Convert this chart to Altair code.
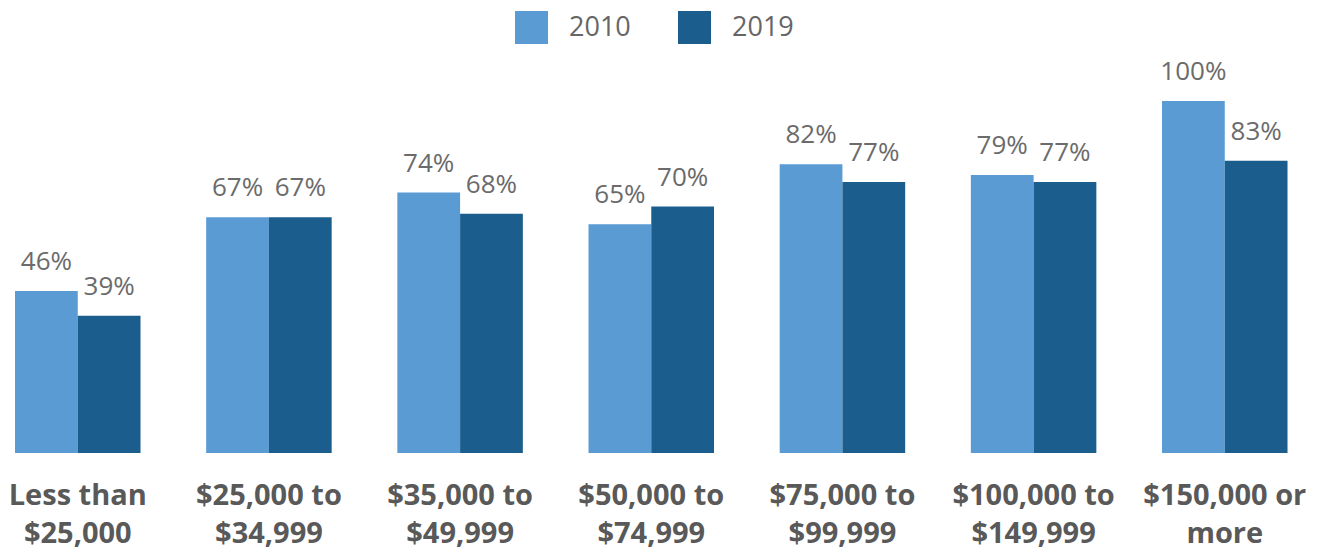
import altair as alt
import pandas as pd

# Household income brackets (two-line axis labels split on "|")
categories = [
    "Less than|$25,000",
    "$25,000 to|$34,999",
    "$35,000 to|$49,999",
    "$50,000 to|$74,999",
    "$75,000 to|$99,999",
    "$100,000 to|$149,999",
    "$150,000 or|more",
]
years = ["2010", "2019"]
values_2010 = [46, 67, 74, 65, 82, 79, 100]
values_2019 = [39, 67, 68, 70, 77, 77, 83]

rows = []
for cat, v10, v19 in zip(categories, values_2010, values_2019):
    rows.append({"category": cat, "year": "2010", "value": v10})
    rows.append({"category": cat, "year": "2019", "value": v19})
df = pd.DataFrame(rows)
df["label"] = df["value"].astype(str) + "%"

FONT = "Open Sans"
colors = ["#5A9BD4", "#1B5E8E"]

x_enc = alt.X(
    "category:N",
    sort=categories,
    scale=alt.Scale(paddingInner=0.3435, paddingOuter=0.1242, align=0.316),
    axis=alt.Axis(
        title=None,
        domain=False,
        ticks=False,
        labelAngle=0,
        labelExpr="split(datum.label, '|')",
        labelFont=FONT,
        labelFontWeight="bold",
        labelFontSize=29,
        labelColor="#595959",
        labelLineHeight=38,
        labelPadding=28,
        labelBaseline="top",
    ),
)
xoff_enc = alt.XOffset(
    "year:N", sort=years, scale=alt.Scale(paddingInner=0, paddingOuter=0)
)
y_enc = alt.Y(
    "value:Q",
    scale=alt.Scale(domain=[0, 453 / 3.52], nice=False, zero=True),
    axis=None,
)

bars = alt.Chart(df).mark_bar().encode(
    x=x_enc,
    xOffset=xoff_enc,
    y=y_enc,
    color=alt.Color(
        "year:N",
        sort=years,
        scale=alt.Scale(domain=years, range=colors),
        legend=alt.Legend(
            title=None,
            orient="none",
            direction="horizontal",
            legendX=515,
            legendY=11,
            symbolType="square",
            symbolSize=1089,
            symbolStrokeWidth=0,
            symbolOpacity=1,
            labelFont=FONT,
            labelFontSize=27,
            labelColor="#666666",
            labelOffset=21,
            columnPadding=47,
            padding=0,
        ),
    ),
)

labels = alt.Chart(df).mark_text(
    font=FONT,
    fontSize=26,
    color="#6b6b6b",
    baseline="alphabetic",
    dy=-21,
).encode(
    x=alt.X("category:N", sort=categories),
    xOffset=alt.XOffset("year:N", sort=years),
    y=alt.Y("value:Q"),
    text="label:N",
)

chart = (
    alt.layer(bars, labels)
    .properties(
        width=1320,
        height=453,
        autosize=alt.AutoSizeParams(type="none"),
        padding={"left": 0, "top": 0, "right": 0, "bottom": 102},
        background="white",
    )
    .configure_view(stroke=None)
)

chart.save("out.html", embed_options={"renderer": "svg", "actions": False})
